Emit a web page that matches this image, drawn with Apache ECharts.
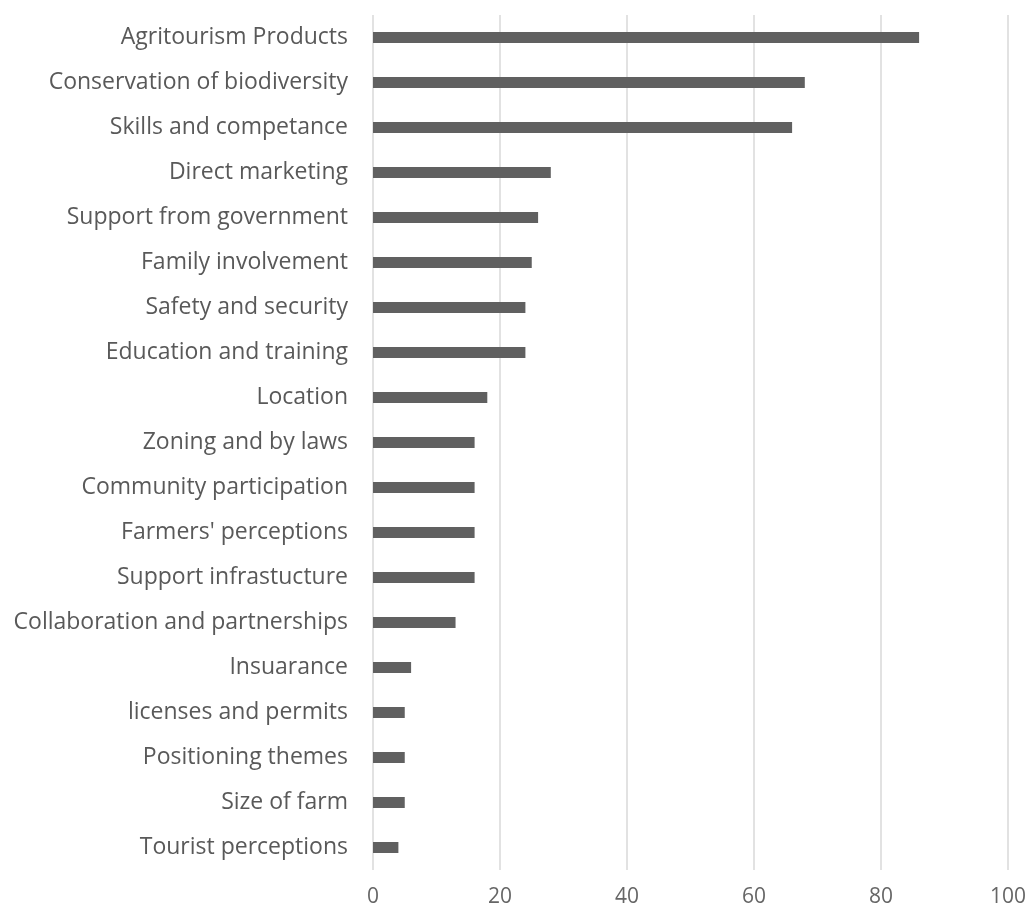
<!DOCTYPE html>
<html>
<head>
<meta charset="utf-8">
<script src="https://cdn.jsdelivr.net/npm/echarts@6/dist/echarts.min.js"></script>
<style>html,body{margin:0;padding:0;background:#fff;}#c{width:1035px;height:912px;}</style>
</head>
<body>
<div id="c"></div>
<script>
const categories = [
  "Agritourism Products",
  "Conservation of biodiversity",
  "Skills and competance",
  "Direct marketing",
  "Support from government",
  "Family involvement",
  "Safety and security",
  "Education and training",
  "Location",
  "Zoning and by laws",
  "Community participation",
  "Farmers' perceptions",
  "Support infrastucture",
  "Collaboration and partnerships",
  "Insuarance",
  "licenses and permits",
  "Positioning themes",
  "Size of farm",
  "Tourist perceptions"
];
const values = [86, 68, 66, 28, 26, 25, 24, 24, 18, 16, 16, 16, 16, 13, 6, 5, 5, 5, 4];
const xTicks = { min: 0, max: 100, interval: 20 };

const chart = echarts.init(document.getElementById('c'));
chart.setOption({
  animation: false,
  backgroundColor: '#ffffff',
  grid: { left: 373, right: 27, top: 15, bottom: 42, containLabel: false },
  xAxis: {
    type: 'value',
    min: xTicks.min, max: xTicks.max, interval: xTicks.interval,
    axisLine: { show: false },
    axisTick: { show: false },
    splitLine: { show: true, lineStyle: { color: '#d9d9d9', width: 1.5 } },
    axisLabel: { color: '#666666', fontFamily: 'Open Sans', fontSize: 21, margin: 17 }
  },
  yAxis: {
    type: 'category',
    data: categories,
    inverse: true,
    axisLine: { show: false },
    axisTick: { show: false },
    axisLabel: { color: '#595959', fontFamily: 'Open Sans', fontSize: 23, margin: 25, verticalAlign: 'middle', padding: [0,0,8,0] }
  },
  series: [{
    type: 'bar',
    data: values,
    barWidth: 11,
    itemStyle: { color: '#606060' }
  }]
});
</script>
</body>
</html>
